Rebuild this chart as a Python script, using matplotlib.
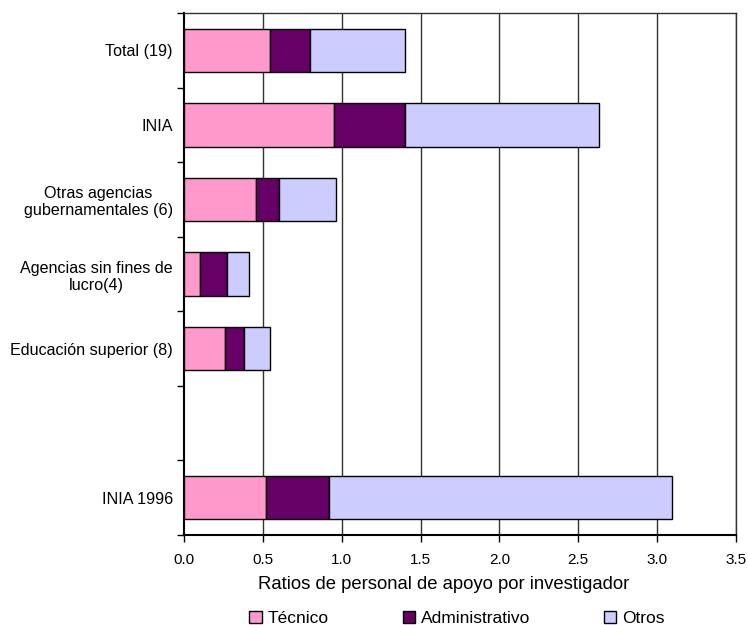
import numpy as np
import matplotlib
matplotlib.use("Agg")
import matplotlib.pyplot as plt

plt.rcParams['font.family'] = ['Liberation Sans', 'DejaVu Sans']

# Categories from top to bottom ("" is an empty spacer slot)
categories = ["Total (19)", "INIA", "Otras agencias\ngubernamentales (6)",
              "Agencias sin fines de\nlucro(4)", "Educación superior (8)", "", "INIA 1996"]
tecnico = [0.545, 0.953, 0.455, 0.10, 0.26, np.nan, 0.518]
administrativo = [0.255, 0.448, 0.145, 0.17, 0.12, np.nan, 0.40]
otros = [0.60, 1.232, 0.364, 0.14, 0.165, np.nan, 2.175]
series_names = ["Técnico", "Administrativo", "Otros"]
colors = ["#FF99CC", "#660066", "#CCCCFF"]
xticks = [0.0, 0.5, 1.0, 1.5, 2.0, 2.5, 3.0, 3.5]

fig = plt.figure(figsize=(7.48, 6.25), dpi=100)
ax = fig.add_axes([0.246, 0.144, 0.738, 0.835])

n = len(categories)
y = np.arange(n)
has_data = ~np.isnan(np.array(tecnico, dtype=float))
left = np.zeros(n)
for vals, name, col in zip([tecnico, administrativo, otros], series_names, colors):
    v = np.array(vals, dtype=float)
    ax.barh(y[has_data], v[has_data], left=left[has_data], height=0.58, color=col,
            edgecolor="black", linewidth=1.0, label=name, zorder=3)
    left = left + np.nan_to_num(v)

ax.set_ylim(n - 0.5, -0.5)
ax.set_xlim(0, 3.5)

# vertical gridlines
for xv in xticks[1:]:
    ax.axvline(xv, color="#333333", linewidth=1.0, zorder=1)

ax.set_xticks(xticks)
ax.set_xticklabels([f"{t:.1f}" for t in xticks], fontsize=11)
ax.tick_params(axis="x", direction="out", length=5, width=1, pad=8)

# category ticks at slot boundaries, labels at slot centres
ax.set_yticks(np.arange(-0.5, n, 1.0))
ax.set_yticklabels([])
ax.set_yticks(y, minor=True)
ax.set_yticklabels(categories, minor=True, fontsize=11.6, ha="right",
                   multialignment="center")
ax.tick_params(axis="y", which="major", direction="out", length=5, width=1)
ax.tick_params(axis="y", which="minor", length=0, pad=8)

for side in ["left", "bottom"]:
    ax.spines[side].set_linewidth(1.5)
for side in ["top", "right"]:
    ax.spines[side].set_linewidth(1.0)
    ax.spines[side].set_color("#333333")

ax.set_xlabel("Ratios de personal de apoyo por investigador", fontsize=13.3)
ax.xaxis.set_label_coords(0.47, -0.078)

fig.legend(loc="lower center", bbox_to_anchor=(0.611, -0.027), ncol=3, frameon=False,
           fontsize=12.5, handlelength=0.7, handleheight=0.7, handletextpad=0.35,
           columnspacing=4.25)

fig.savefig("out.png", dpi=100)
